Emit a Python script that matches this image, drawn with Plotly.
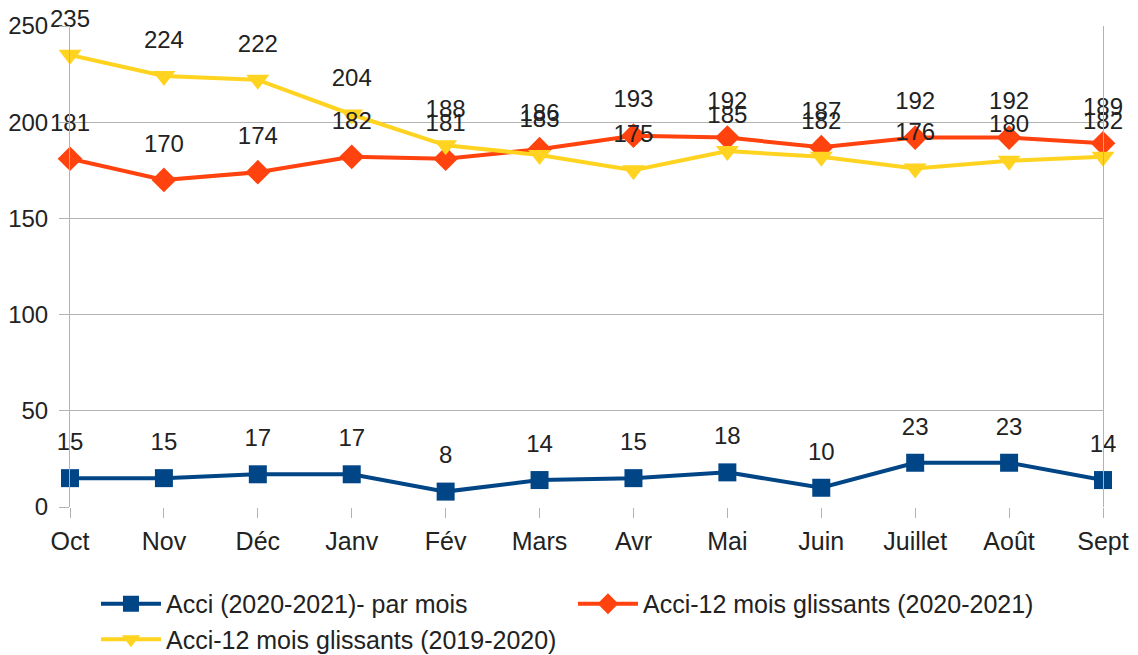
import plotly.graph_objects as go

months = ["Oct", "Nov", "Déc", "Janv", "Fév", "Mars", "Avr", "Mai", "Juin", "Juillet", "Août", "Sept"]
acci_mois = [15, 15, 17, 17, 8, 14, 15, 18, 10, 23, 23, 14]
glissants_2021 = [181, 170, 174, 182, 181, 186, 193, 192, 187, 192, 192, 189]
glissants_2020 = [235, 224, 222, 204, 188, 183, 175, 185, 182, 176, 180, 182]
y_ticks = [0, 50, 100, 150, 200, 250]

FONT = "Liberation Sans, Arial, sans-serif"
GRID = "#b3b3b3"
TXT = "#222222"

series = [
    ("Acci (2020-2021)- par mois", acci_mois, "#004586", "square", 18),
    ("Acci-12 mois glissants (2020-2021)", glissants_2021, "#ff420e", "diamond", 19),
    ("Acci-12 mois glissants (2019-2020)", glissants_2020, "#ffd320", "triangle-down", 20),
]

fig = go.Figure()
for name, vals, color, sym, size in series:
    fig.add_trace(go.Scatter(
        x=months, y=vals, name=name,
        mode="lines+markers",
        line=dict(color=color, width=4),
        marker=dict(color=color, symbol=sym, size=size),
        cliponaxis=False,
    ))
# data labels (invisible larger markers give the label offset)
for name, vals, color, sym, size in series:
    fig.add_trace(go.Scatter(
        x=months, y=vals, name=name + " labels", showlegend=False,
        mode="markers+text",
        text=[str(v) for v in vals],
        textposition="top center",
        textfont=dict(family=FONT, size=24, color=TXT),
        marker=dict(color=color, size=34, opacity=0),
        hoverinfo="skip",
        cliponaxis=False,
    ))

fig.update_layout(
    width=1138, height=655,
    margin=dict(l=62, r=43, t=18, b=156, autoexpand=False),
    paper_bgcolor="white", plot_bgcolor="white",
    font=dict(family=FONT, size=24, color=TXT),
    showlegend=True,
    legend=dict(
        orientation="h", xref="container", yref="container",
        x=0.0773, xanchor="left", y=0.1252, yanchor="top",
        entrywidth=402, itemwidth=60, font=dict(family=FONT, size=25, color=TXT),
        bgcolor="rgba(0,0,0,0)",
    ),
)
fig.update_xaxes(
    type="category", range=[0, 11], automargin=False,
    showgrid=False, showline=False, zeroline=False,
    ticks="outside", ticklen=10, tickcolor=GRID, tickwidth=1,
    ticklabelstandoff=2,
    tickfont=dict(family=FONT, size=25, color=TXT),
)
fig.update_yaxes(
    range=[0, 250], tickvals=y_ticks, automargin=False,
    showgrid=True, gridcolor=GRID, gridwidth=1,
    showline=True, linecolor=GRID, linewidth=1, mirror=True,
    zeroline=False,
    ticks="outside", ticklen=10, tickcolor=GRID, tickwidth=1,
    ticklabelstandoff=6,
    tickfont=dict(family=FONT, size=24, color=TXT),
)

fig.write_html("out.html")
